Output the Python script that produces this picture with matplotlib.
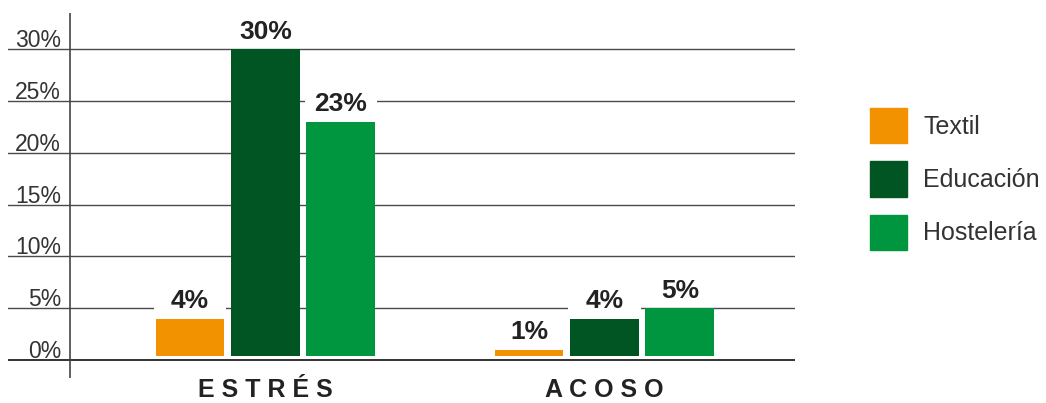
import numpy as np
import matplotlib
matplotlib.use("Agg")
import matplotlib.pyplot as plt
import matplotlib.patches as patches

plt.rcParams['font.family'] = ['Liberation Sans', 'DejaVu Sans']

# data
groups = ["E S T R É S", "A C O S O"]
series = ["Textil", "Educación", "Hostelería"]
values = {
    "Textil": [4, 1],
    "Educación": [30, 4],
    "Hostelería": [23, 5],
}
colors = ["#F39200", "#005523", "#009640"]
yticks = [0, 5, 10, 15, 20, 25, 30]

W, H = 1046, 403
fig = plt.figure(figsize=(W / 100, H / 100), dpi=100, facecolor='white')
# axes from x=8..795 px, y=13..378 px
ax = fig.add_axes([8 / W, 1 - 378 / H, 787 / W, 365 / H])
ax.set_xlim(-0.7596, 1.562)
ax.set_ylim(-1.74, 33.5)
ax.set_axis_off()

# gridlines
for t in yticks:
    lw = 1.3 if t == 0 else 1.0
    c = '#222222' if t == 0 else '#4a4a4a'
    ax.axhline(t, color=c, lw=lw, zorder=1)
    ax.annotate(f"{t}%", xy=(-0.603, t), xytext=(0, 1.5), textcoords='offset points',
                ha='right', va='baseline', fontsize=16.5, color='#333333')

# y axis line
ax.axvline(-0.5767, color='#444444', lw=1.2, zorder=1)

x = np.arange(len(groups))
bw = 0.2035
step = 0.2227
base = 0.35
for i, name in enumerate(series):
    vals = np.array(values[name])
    pos = x + (i - 1) * step
    ax.bar(pos, vals - base, bottom=base, width=bw, color=colors[i], zorder=2, label=name)
    for px, v in zip(pos, vals):
        # white strip behind the label breaks the gridline
        ax.add_patch(patches.Rectangle((px - bw / 2 - 0.005, v + 0.6), bw + 0.01, 2.4,
                                       fc='white', ec='none', zorder=1.5))
        ax.annotate(f"{v}%", xy=(px, v), xytext=(0, 4), textcoords='offset points',
                    ha='center', va='bottom', fontsize=19, fontweight='bold', color='#222222',
                    zorder=3)

# category labels
for xi, g in zip(x, groups):
    ax.text(xi, -0.033, g, transform=ax.get_xaxis_transform(), ha='center', va='center',
            fontsize=18, fontweight='bold', color='#222222')

handles = [patches.Patch(color=c) for c in colors]
fig.legend(handles, series, loc='upper left', bbox_to_anchor=(870 / W, 1 - 108 / H),
           frameon=False, fontsize=18, handlelength=1.48, handleheight=1.8,
           labelspacing=0.72, handletextpad=0.64, borderpad=0, borderaxespad=0,
           labelcolor='#333333')

fig.savefig("out.png", dpi=100)
